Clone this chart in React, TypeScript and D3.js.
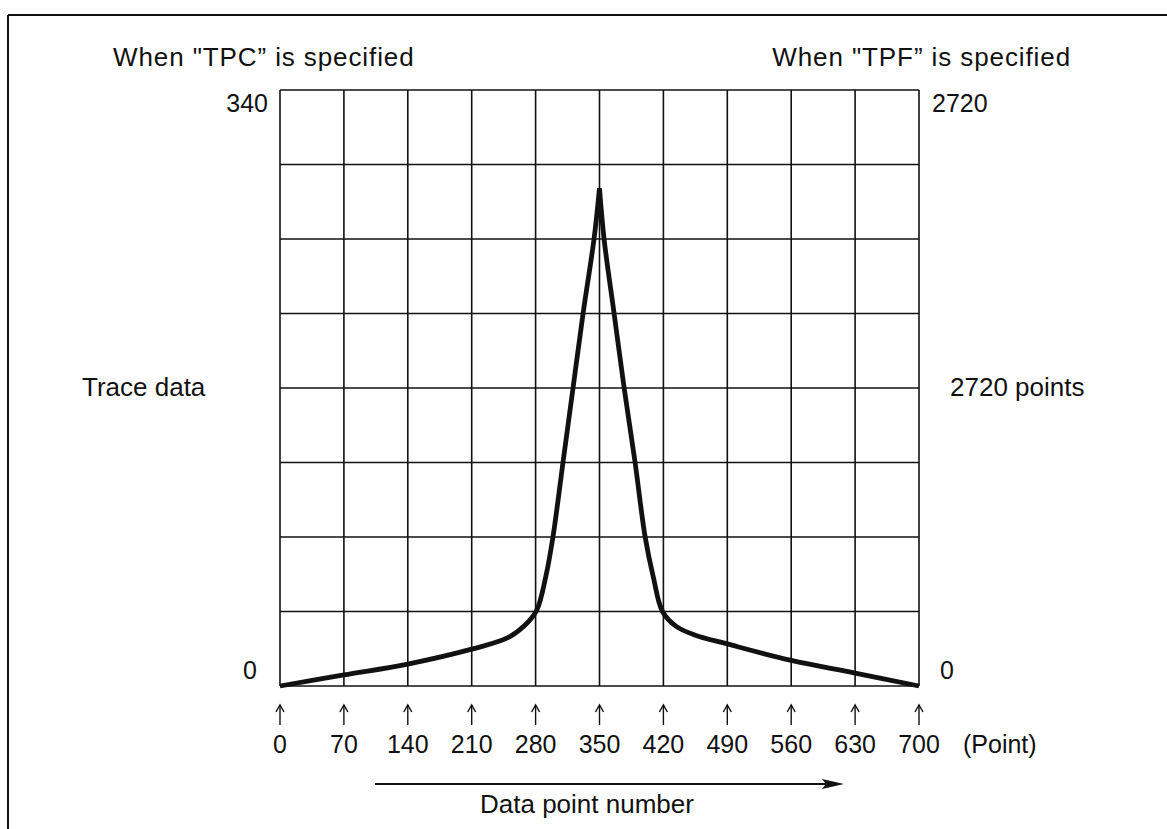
import React from "react";
import * as d3 from "d3";

const xTicks = [0, 70, 140, 210, 280, 350, 420, 490, 560, 630, 700];
const yGrid = [0, 42.5, 85, 127.5, 170, 212.5, 255, 297.5, 340];
const leftAxisLabels = ["0", "340"];
const rightAxisLabels = ["0", "2720"];

// Trace: left half rising to the peak, right half falling from it
const leftX = [0, 70, 140, 210, 249, 268, 281, 291, 299, 310, 321, 332, 344, 350];
const leftY = [0, 6.3, 12.5, 21, 27.4, 34.5, 43, 62, 85, 127.5, 170, 212.5, 255, 284];
const rightX = [350, 355, 366, 377, 389, 400, 409, 419, 434, 455, 490, 560, 630, 700];
const rightY = [284, 255, 212.5, 170, 127.5, 85, 62, 42.5, 34, 29, 24, 14.6, 7.4, 0];

const W = 1167;
const H = 829;
const FONT = "'Liberation Sans', Arial, Helvetica, sans-serif";

export default function App() {
  const x = d3.scaleLinear().domain([0, 700]).range([280, 919]);
  const y = d3.scaleLinear().domain([0, 340]).range([686, 90]);

  const line = d3
    .line<[number, number]>()
    .x((d) => x(d[0]))
    .y((d) => y(d[1]))
    .curve(d3.curveCatmullRom.alpha(0.5));

  const leftPts = leftX.map((v, i) => [v, leftY[i]] as [number, number]);
  const rightPts = rightX.map((v, i) => [v, rightY[i]] as [number, number]);
  const pathD = (line(leftPts) || "") + "L" + (line(rightPts) || "").slice(1);

  const ink = "#111";
  const fs = 25;

  return (
    <svg
      width={W}
      height={H}
      style={{ position: "absolute", left: 0, top: 0, background: "#fff" }}
      fontFamily={FONT}
    >
      <rect x={0} y={0} width={W} height={H} fill="#fff" />
      {/* frame */}
      <line x1={8} y1={15} x2={W} y2={15} stroke={ink} strokeWidth={2} />
      <line x1={8} y1={15} x2={8} y2={H} stroke={ink} strokeWidth={2} />

      {/* headers */}
      <text x={113} y={66} fontSize={26} fill={ink} letterSpacing={0.9}>
        When "TPC” is specified
      </text>
      <text x={1071} y={66} fontSize={26} fill={ink} textAnchor="end" letterSpacing={0.9}>
        When "TPF” is specified
      </text>

      {/* grid */}
      {xTicks.map((t) => (
        <line key={"v" + t} x1={x(t)} x2={x(t)} y1={y(340)} y2={y(0)} stroke={ink} strokeWidth={1.6} />
      ))}
      {yGrid.map((t) => (
        <line key={"h" + t} x1={x(0)} x2={x(700)} y1={y(t)} y2={y(t)} stroke={ink} strokeWidth={1.6} />
      ))}

      {/* axis end labels */}
      <text x={268} y={112} fontSize={fs} fill={ink} textAnchor="end">{leftAxisLabels[1]}</text>
      <text x={257} y={679} fontSize={fs} fill={ink} textAnchor="end">{leftAxisLabels[0]}</text>
      <text x={932} y={112} fontSize={fs} fill={ink}>{rightAxisLabels[1]}</text>
      <text x={940} y={679} fontSize={fs} fill={ink}>{rightAxisLabels[0]}</text>

      <text x={82} y={396} fontSize={26} fill={ink}>Trace data</text>
      <text x={950} y={396} fontSize={26} fill={ink}>2720 points</text>

      {/* trace */}
      <path d={pathD} fill="none" stroke={ink} strokeWidth={4.8} strokeLinejoin="bevel" />

      {/* tick arrows and labels */}
      {xTicks.map((t) => (
        <g key={"a" + t}>
          <line x1={x(t)} x2={x(t)} y1={705} y2={725} stroke={ink} strokeWidth={1.4} />
          <path d={`M${x(t) - 4},${712}L${x(t)},${705}L${x(t) + 4},${712}`} fill="none" stroke={ink} strokeWidth={1.4} />
          <text x={x(t)} y={753} fontSize={fs} fill={ink} textAnchor="middle">{t}</text>
        </g>
      ))}
      <text x={963} y={753} fontSize={fs} fill={ink}>(Point)</text>

      {/* data point number arrow */}
      <line x1={375} x2={828} y1={784} y2={784} stroke={ink} strokeWidth={2} />
      <path d="M822,779 L844,784 L822,789 L826,784 Z" fill={ink} />
      <text x={480} y={813} fontSize={26} fill={ink}>Data point number</text>
    </svg>
  );
}
